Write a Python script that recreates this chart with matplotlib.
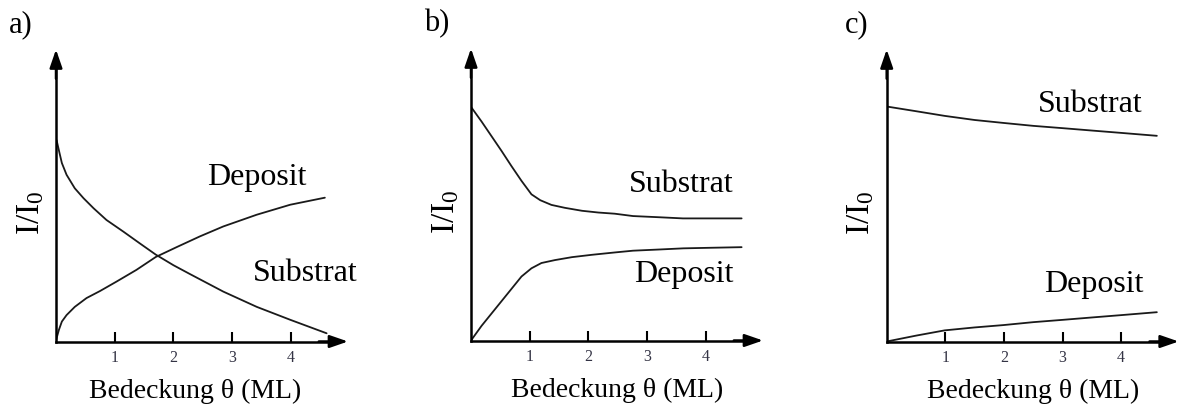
import matplotlib.pyplot as plt
import numpy as np

plt.rcParams["font.family"] = ["Liberation Serif", "DejaVu Serif"]
plt.rcParams["mathtext.fontset"] = "custom"
plt.rcParams["mathtext.rm"] = "Liberation Serif"
plt.rcParams["mathtext.it"] = "Liberation Serif"

# coverage theta (ML) and I/I0 (arbitrary units)
a_sub_x = [0.01, 0.06, 0.10, 0.18, 0.32, 0.47, 0.64, 0.86, 1.15, 1.43, 1.70,
           2.00, 2.28, 2.85, 3.42, 3.99, 4.61]
a_sub_y = [3.43, 3.21, 3.04, 2.84, 2.61, 2.44, 2.27, 2.07, 1.87, 1.67, 1.48,
           1.30, 1.15, 0.85, 0.59, 0.37, 0.14]
a_dep_x = [0.0, 0.05, 0.10, 0.18, 0.32, 0.52, 0.75, 1.03, 1.37, 1.70, 2.06,
           2.45, 2.85, 3.42, 3.99, 4.58]
a_dep_y = [0.02, 0.20, 0.34, 0.45, 0.59, 0.74, 0.86, 1.02, 1.22, 1.44, 1.61,
           1.79, 1.96, 2.16, 2.33, 2.45]

b_sub_x = [0.0, 0.18, 0.35, 0.52, 0.69, 0.86, 1.03, 1.18, 1.37, 1.60, 1.89,
           2.17, 2.45, 2.76, 3.2, 3.61, 4.1, 4.61]
b_sub_y = [3.98, 3.73, 3.48, 3.23, 2.97, 2.72, 2.49, 2.39, 2.31, 2.26, 2.21,
           2.18, 2.16, 2.12, 2.10, 2.08, 2.08, 2.08]
b_dep_x = [0.0, 0.18, 0.35, 0.52, 0.69, 0.86, 1.03, 1.20, 1.43, 1.72, 2.06,
           2.45, 2.76, 3.2, 3.62, 4.1, 4.61]
b_dep_y = [0.0, 0.25, 0.46, 0.67, 0.88, 1.09, 1.23, 1.32, 1.37, 1.42, 1.46,
           1.50, 1.53, 1.55, 1.57, 1.58, 1.59]

c_sub_x = [0.0, 0.5, 0.99, 1.5, 1.99, 2.5, 3.01, 3.5, 4.0, 4.61]
c_sub_y = [4.01, 3.93, 3.85, 3.78, 3.73, 3.68, 3.64, 3.60, 3.56, 3.51]
c_dep_x = [0.0, 0.5, 0.99, 1.5, 1.99, 2.5, 3.01, 3.5, 4.0, 4.61]
c_dep_y = [0.0, 0.10, 0.19, 0.24, 0.28, 0.33, 0.37, 0.41, 0.45, 0.50]

ticks = [1, 2, 3, 4]
tick_labels = ["1", "2", "3", "4"]

W, H = 1180, 407
fig = plt.figure(figsize=(W / 100, H / 100), dpi=100)

# (panel letter, origin px, unit px, curves, label positions, xlabel x-frac, letter x-frac)
panels = [
    ("a)", (56, 341.5), 58.7,
     [(a_sub_x, a_sub_y), (a_dep_x, a_dep_y)],
     [("Deposit", 3.42, 2.80), ("Substrat", 4.24, 1.15)], 0.478, -0.12),
    ("b)", (471, 340.5), 58.7,
     [(b_sub_x, b_sub_y), (b_dep_x, b_dep_y)],
     [("Substrat", 3.58, 2.65), ("Deposit", 3.62, 1.12)], 0.5, -0.119),
    ("c)", (886.7, 341.5), 58.6,
     [(c_sub_x, c_sub_y), (c_dep_x, c_dep_y)],
     [("Substrat", 3.48, 4.04), ("Deposit", 3.53, 0.97)], 0.502, -0.103),
]

L = 292  # axis length in px
head = "-|>,head_length=1.1,head_width=0.38"
for letter, (ox, oy), unit, curves, labels, xl_x, let_x in panels:
    ax = fig.add_axes([ox / W, (H - oy) / H, L / W, L / H])
    lim = L / unit
    ax.set_xlim(0, lim)
    ax.set_ylim(0, lim)
    for s in ["top", "right"]:
        ax.spines[s].set_visible(False)
    for s in ["left", "bottom"]:
        ax.spines[s].set_linewidth(1.8)
        ax.spines[s].set_bounds(0, lim * 0.96)
    # arrow heads
    ax.annotate("", xy=(1.0, 0), xytext=(0.9, 0), xycoords="axes fraction",
                arrowprops=dict(arrowstyle=head, color="black", lw=1.8,
                                shrinkA=0, shrinkB=0))
    ax.annotate("", xy=(0, 1.0), xytext=(0, 0.9), xycoords="axes fraction",
                arrowprops=dict(arrowstyle=head, color="black", lw=1.8,
                                shrinkA=0, shrinkB=0))

    for x, y in curves:
        ax.plot(x, y, color="#1a1a1a", lw=1.3, solid_capstyle="round",
                solid_joinstyle="round")

    for txt, tx, ty in labels:
        ax.text(tx, ty, txt, fontsize=23, ha="center", va="center")

    ax.set_xticks(ticks)
    ax.set_xticklabels(tick_labels, fontsize=11.5, color="#333344")
    ax.tick_params(axis="x", direction="in", length=7, width=1.5, pad=6)
    ax.set_yticks([])

    ax.text(xl_x, -0.17, "Bedeckung θ (ML)", transform=ax.transAxes,
            fontsize=20, ha="center", va="center")
    ax.text(-0.088, 0.44, r"I/I$_0$", transform=ax.transAxes,
            fontsize=24, ha="center", va="center", rotation=90)
    ax.text(let_x, 1.085, letter, transform=ax.transAxes,
            fontsize=22, ha="center", va="center")

fig.savefig("out.png", dpi=100)
